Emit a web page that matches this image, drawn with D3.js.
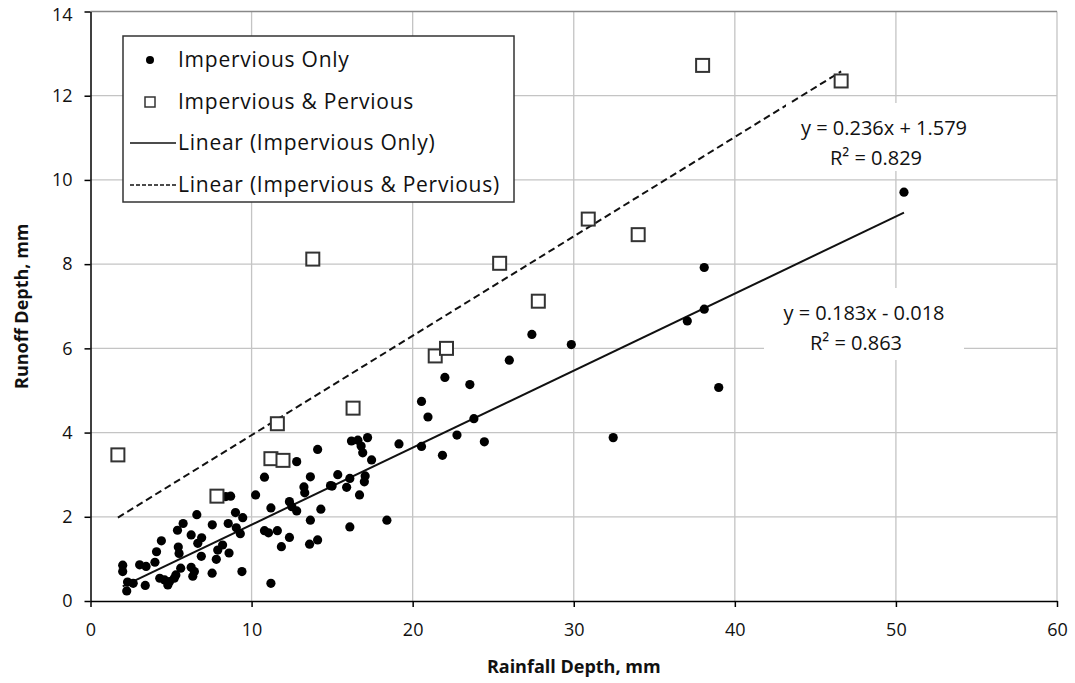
<!DOCTYPE html>
<html>
<head>
<meta charset="utf-8">
<script src="https://cdn.jsdelivr.net/npm/d3@7"></script>
<style>
  body { margin: 0; background: #fff; }
  text { font-family: "Open Sans", Lato, sans-serif; fill: #111; }
  .grid line { stroke: #c4c4c4; stroke-width: 1.3; }
  .axis path, .axis line { stroke: #000; stroke-width: 1.5; }
</style>
</head>
<body>
<div id="chart"></div>
<script>
// Impervious Only: rainfall depth (mm) vs runoff depth (mm)
const impX = [2.0, 2.0, 2.3, 2.25, 2.65, 3.05, 3.45, 3.4, 4.0, 4.1, 4.4, 4.3, 4.6, 4.9, 4.8, 5.2, 5.3, 5.6, 5.4, 5.75,
  5.45, 5.5, 6.25, 6.9, 6.66, 6.6, 6.88, 6.25, 6.45, 6.35, 7.55, 7.56, 7.81, 7.9, 8.2, 8.6, 8.4, 8.7, 8.55, 9.0,
  9.45, 9.05, 9.3, 9.4, 10.25, 10.8, 10.8, 11.05, 11.6, 11.2, 11.2, 11.85, 12.35, 12.35, 12.5, 12.8, 12.8, 13.25, 13.3, 13.65,
  13.65, 13.6, 14.1, 14.1, 14.3, 14.9, 15.35, 15.0, 15.9, 16.1, 16.1, 16.2, 16.6, 17.2, 16.8, 16.9, 17.05, 17.0, 16.7, 17.45,
  18.4, 19.15, 20.55, 20.55, 20.95, 21.85, 22.0, 22.75, 23.55, 23.8, 24.45, 26.0, 27.4, 29.85, 32.45, 37.05, 38.1, 38.1, 39.0, 50.5]
const impY = [0.85, 0.70, 0.45, 0.24, 0.42, 0.86, 0.82, 0.37, 0.92, 1.17, 1.43, 0.54, 0.50, 0.46, 0.38, 0.54, 0.62, 0.78, 1.68, 1.84,
  1.28, 1.13, 1.57, 1.50, 1.37, 2.05, 1.06, 0.80, 0.70, 0.59, 0.66, 1.81, 0.99, 1.21, 1.33, 1.14, 2.48, 2.49, 1.84, 2.10,
  1.98, 1.74, 1.60, 0.70, 2.52, 2.94, 1.67, 1.62, 1.67, 2.21, 0.42, 1.29, 1.51, 2.36, 2.24, 2.14, 3.31, 2.71, 2.57, 2.95,
  1.92, 1.35, 1.45, 3.60, 2.18, 2.74, 3.00, 2.73, 2.70, 2.91, 1.76, 3.80, 3.82, 3.88, 3.68, 3.52, 2.97, 2.83, 2.52, 3.35,
  1.92, 3.73, 3.67, 4.74, 4.37, 3.46, 5.31, 3.94, 5.14, 4.33, 3.78, 5.72, 6.33, 6.09, 3.88, 6.65, 6.93, 7.92, 5.07, 9.71]

// Impervious & Pervious
const perX = [1.7, 7.85, 11.6, 11.2, 11.95, 13.8, 16.3, 21.4, 22.1, 25.4, 27.8, 30.9, 34.0, 38.0, 46.6]
const perY = [3.47, 2.49, 4.21, 3.38, 3.34, 8.12, 4.58, 5.82, 6.0, 8.02, 7.12, 9.07, 8.7, 12.72, 12.35]

// linear trendlines (slope, intercept) and their labels
const trendSlope = [0.183, 0.236]
const trendIntercept = [-0.018, 1.579]
const trendEq = ["y = 0.183x - 0.018", "y = 0.236x + 1.579"]
const trendR2 = ["R² = 0.863", "R² = 0.829"]

const legendLabels = ["Impervious Only", "Impervious & Pervious", "Linear (Impervious Only)", "Linear (Impervious & Pervious)"]
const xTicks = [0, 10, 20, 30, 40, 50, 60]
const yTicks = [0, 2, 4, 6, 8, 10, 12, 14]

const width = 1075, height = 683
const svg = d3.select("#chart").append("svg")
  .attr("width", width)
  .attr("height", height)

const x = d3.scaleLinear().domain([0, 60]).range([90.5, 1057])
const y = d3.scaleLinear().domain([0, 14]).range([601, 11.5])

// gridlines
const grid = svg.append("g").classed("grid", true)
grid.selectAll(".gx").data(xTicks.slice(1)).enter().append("line")
  .attr("x1", d => x(d)).attr("x2", d => x(d))
  .attr("y1", y(0)).attr("y2", y(14))
grid.selectAll(".gy").data(yTicks.slice(1)).enter().append("line")
  .attr("x1", x(0)).attr("x2", x(60))
  .attr("y1", d => y(d)).attr("y2", d => y(d))
  .style("stroke", d => d === 14 ? "#888" : null)

// axes
svg.append("g").classed("axis", true)
  .attr("transform", `translate(0,${y(0)})`)
  .call(d3.axisBottom(x).tickValues(xTicks).tickSize(6).tickPadding(16).tickSizeOuter(0))
const yAxis = svg.append("g").classed("axis", true)
  .attr("transform", `translate(${x(0)},0)`)
  .call(d3.axisLeft(y).tickValues(yTicks).tickSize(6).tickPadding(12).tickSizeOuter(0))
svg.selectAll(".axis text").attr("font-size", 18).attr("font-family", "Open Sans").style("fill", "#111")
// keep the top label inside the page
yAxis.selectAll(".tick text").filter(d => d === 14).attr("dy", "0.5em")

svg.append("text")
  .attr("x", x(30)).attr("y", 673)
  .attr("text-anchor", "middle")
  .attr("font-size", 18).attr("font-weight", "bold")
  .text("Rainfall Depth, mm")
svg.append("text")
  .attr("transform", `translate(28,${y(7)}) rotate(-90)`)
  .attr("text-anchor", "middle")
  .attr("font-size", 18).attr("font-weight", "bold")
  .text("Runoff Depth, mm")

// trendlines
const impExt = d3.extent(impX), perExt = d3.extent(perX)
const trends = [
  {ext: impExt, m: trendSlope[0], b: trendIntercept[0], dash: null},
  {ext: perExt, m: trendSlope[1], b: trendIntercept[1], dash: "7,4"}
]
svg.append("g").selectAll("line").data(trends).enter().append("line")
  .attr("x1", d => x(d.ext[0])).attr("y1", d => y(d.m * d.ext[0] + d.b))
  .attr("x2", d => x(d.ext[1])).attr("y2", d => y(d.m * d.ext[1] + d.b))
  .attr("stroke", "#111").attr("stroke-width", 2)
  .attr("stroke-dasharray", d => d.dash)

// equation labels with white background
const eqPos = [{cx: 864, top: 288, w: 200, h: 72}, {cx: 884, top: 103, w: 196, h: 68}]
const eq = svg.append("g").selectAll("g").data(eqPos).enter().append("g")
eq.append("rect")
  .attr("x", d => d.cx - d.w / 2).attr("y", d => d.top)
  .attr("width", d => d.w).attr("height", d => d.h)
  .attr("fill", "#fff")
eq.append("text")
  .attr("x", d => d.cx).attr("y", d => d.top + 32)
  .attr("text-anchor", "middle").attr("font-size", 20)
  .text((d, i) => trendEq[i])
eq.append("text")
  .attr("x", d => d.cx - 8).attr("y", d => d.top + 62)
  .attr("text-anchor", "middle").attr("font-size", 20)
  .text((d, i) => trendR2[i])

// data points
const impData = impX.map((v, i) => ({x: v, y: impY[i]}))
const perData = perX.map((v, i) => ({x: v, y: perY[i]}))
svg.append("g").selectAll("circle").data(impData).enter().append("circle")
  .attr("cx", d => x(d.x)).attr("cy", d => y(d.y))
  .attr("r", 4.6).attr("fill", "#000")
svg.append("g").selectAll("rect").data(perData).enter().append("rect")
  .attr("x", d => x(d.x) - 6.5).attr("y", d => y(d.y) - 6.5)
  .attr("width", 13).attr("height", 13)
  .attr("fill", "#fff").attr("stroke", "#333").attr("stroke-width", 2)

// legend
const legend = svg.append("g").attr("transform", "translate(123,36)")
legend.append("rect")
  .attr("width", 391).attr("height", 166)
  .attr("fill", "#fff").attr("stroke", "#333").attr("stroke-width", 1.5)
const rowY = [24, 66, 107, 149]
const items = legend.selectAll("g.item").data(legendLabels).enter().append("g")
  .attr("transform", (d, i) => `translate(0,${rowY[i]})`)
items.append("text")
  .attr("x", 55).attr("dy", "0.35em")
  .attr("font-size", 21).attr("letter-spacing", 0.75)
  .text(d => d)
items.filter((d, i) => i === 0).append("circle")
  .attr("cx", 27).attr("r", 4).attr("fill", "#000")
items.filter((d, i) => i === 1).append("rect")
  .attr("x", 22).attr("y", -5).attr("width", 10).attr("height", 10)
  .attr("fill", "#fff").attr("stroke", "#333").attr("stroke-width", 1.5)
items.filter((d, i) => i >= 2).append("line")
  .attr("x1", 7).attr("x2", 53)
  .attr("stroke", "#111").attr("stroke-width", 1.5)
  .attr("stroke-dasharray", (d, i) => i === 1 ? "4,2" : null)
</script>
</body>
</html>
